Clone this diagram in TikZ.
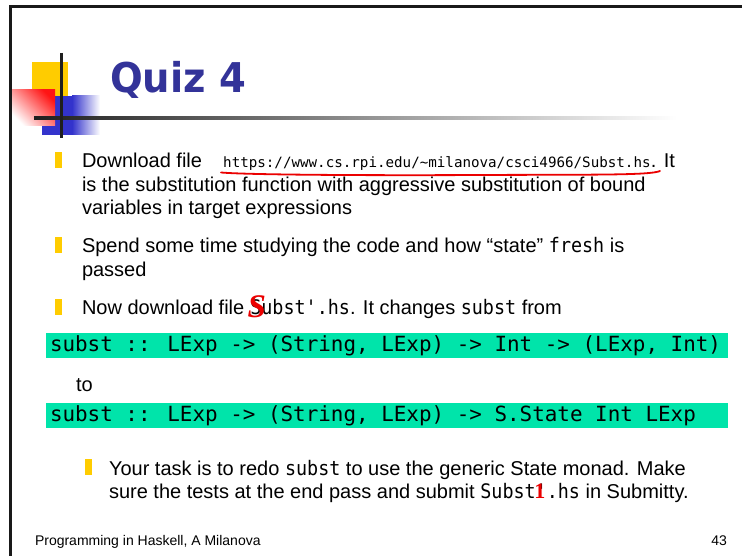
\documentclass[tikz,border=0pt]{standalone}
\usepackage{fontspec}
\setmainfont{Liberation Sans}
\newfontfamily\titlefont{DejaVu Sans}[FakeStretch=0.94]
\newfontfamily\codefont{DejaVu Sans Mono}
\newfontfamily\inmono{DejaVu Sans Mono}[FakeStretch=0.92]
\newfontfamily\handfont{Liberation Serif}
\definecolor{titleblue}{RGB}{51,51,153}
\definecolor{codegreen}{RGB}{0,228,170}
\definecolor{bulletyellow}{RGB}{255,204,0}
\definecolor{logoblue}{RGB}{51,51,204}
\definecolor{logored}{RGB}{255,20,20}
\definecolor{inkred}{RGB}{235,0,0}
\tikzset{
  txt/.style={anchor=base west, inner sep=0pt, outer sep=0pt, font=\fontsize{20}{23.5}\selectfont},
  foot/.style={inner sep=0pt, outer sep=0pt, font=\fontsize{14}{16}\selectfont},
  code/.style={anchor=base west, inner sep=0pt, outer sep=0pt, font=\codefont\fontsize{20.9}{24}\selectfont},
  codebox/.style={fill=codegreen, draw=none, anchor=north west, inner sep=0pt, minimum width=682pt, minimum height=24.5pt},
  bul/.style={fill=bulletyellow, draw=none, anchor=south west, inner sep=0pt, minimum width=6.5pt, minimum height=16pt},
  ink/.style={inkred, line width=1.8pt, line cap=round}
}
\begin{document}
\begin{tikzpicture}[x=1pt,y=-1pt]
\useasboundingbox (0,0) rectangle (742,556);
\fill[white] (0,0) rectangle (742,556);
% frame
\draw[black!90, line width=3pt] (10.5,556) -- (10.5,7) -- (742,7);
% logo
\fill[bulletyellow] (32,62) rectangle (68,96);
\fill[logoblue] (42,96) rectangle (72,135);
\shade[left color=logoblue, right color=white] (72,96) rectangle (100,135);
\shade[top color=logored, bottom color=white, shading angle=-45] (12,90) rectangle (55,126);
\shade[left color=black!88, right color=white] (34,116.5) rectangle (677,119.5);
\draw[black!88, line width=3pt] (61,53) -- (61,138);
% title
\node[anchor=base west, inner sep=0pt, text=titleblue, font=\titlefont\bfseries\fontsize{41}{45}\selectfont] (title) at (110,93) {Quiz 4};
% bullet 1
\node[bul] (b1) at (55,168) {};
\node[txt] (l1a) at (82,168) {Download file};
\node[anchor=base west, inner sep=0pt, font=\codefont\fontsize{14.2}{16}\selectfont] (url) at (223,168) {https://www.cs.rpi.edu/\textasciitilde milanova/csci4966/Subst.hs};
\node[txt] (l1b) at (url.base east) {. It};
\node[txt] (l1c) at (82,191.5) {is the substitution function with aggressive substitution of bound};
\node[txt] (l1d) at (82,215) {variables in target expressions};
\draw[ink] (221,172.5) .. controls (250,175) and (380,175.5) .. (480,175) .. controls (590,174.5) and (650,175.5) .. (660,171);
% bullet 2
\node[bul] (b2) at (55,253) {};
\node[txt] (l2a) at (82,253) {Spend some time studying the code and how “state” {\inmono fresh} is};
\node[txt] (l2b) at (82,276.5) {passed};
% bullet 3
\node[bul] (b3) at (55,315) {};
\node[txt] (l3a) at (82,315) {Now download file};
\node[txt] (l3b) at ([xshift=6pt]l3a.base east) {{\inmono Subst'.hs}. It changes {\inmono subst} from};
\node[anchor=base west, inner sep=0pt, text=inkred, font=\handfont\bfseries\itshape\fontsize{33}{33}\selectfont] (redS) at ([xshift=-3pt,yshift=-2.5pt]l3b.base west) {S};
% code lines
\node[codebox] (cb1) at (46,333) {};
\node[code] (c1) at (50,351) {subst :: LExp -> (String, LExp) -> Int -> (LExp, Int)};
\node[txt] (to) at (76,391) {to};
\node[codebox] (cb2) at (46,403) {};
\node[code] (c2) at (50,421) {subst :: LExp -> (String, LExp) -> S.State Int LExp};
% bullet 4
\node[bul] (b4) at (85,475) {};
\node[txt] (l4a) at (109,475) {Your task is to redo {\inmono subst} to use the generic State monad. Make};
\node[txt] (l4b) at (109,498.5) {sure the tests at the end pass and submit};
\node[txt] (l4c) at ([xshift=5.6pt]l4b.base east) {\inmono Subst};
\node[txt] (l4d) at (l4c.base east) {{\inmono '.hs} in Submitty.};
\node[anchor=base west, inner sep=0pt, text=inkred, font=\handfont\bfseries\fontsize{22}{22}\selectfont] (red1) at ([xshift=-1.5pt]l4d.base west) {1};
% footer
\node[foot, anchor=base west] (footer) at (35,545) {Programming in Haskell, A Milanova};
\node[foot, anchor=base east] (pageno) at (727,545) {43};
\end{tikzpicture}
\end{document}
